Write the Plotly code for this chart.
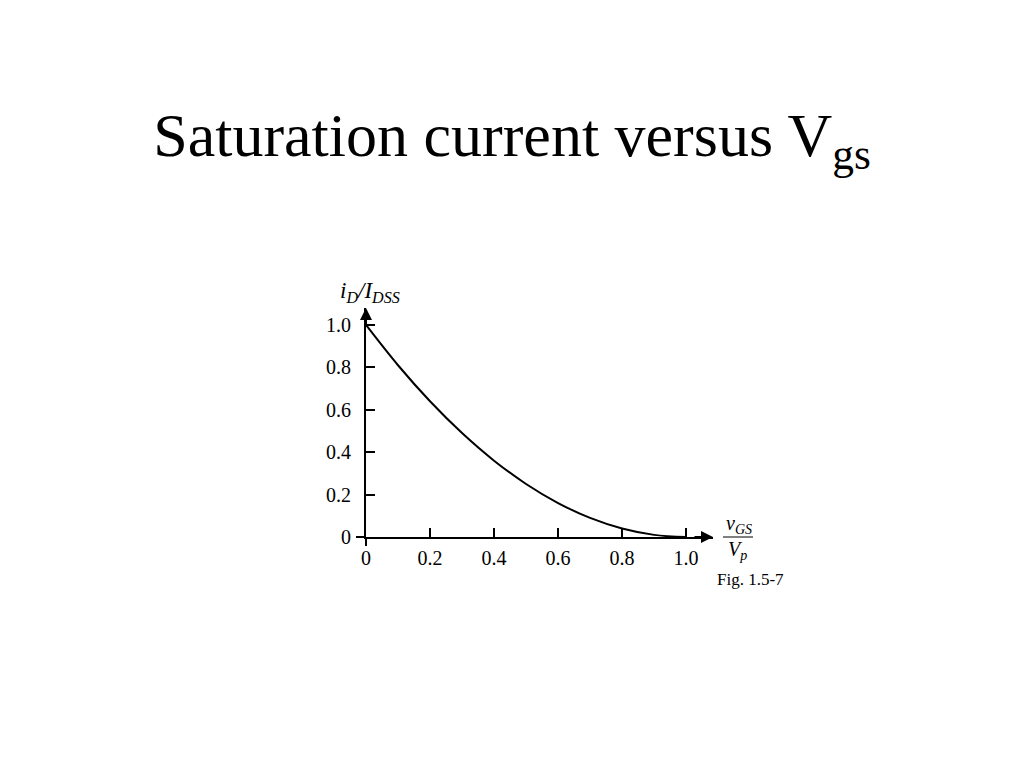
import plotly.graph_objects as go

# Data
vgs_over_vp = [0.0, 0.1, 0.2, 0.3, 0.4, 0.5, 0.6, 0.7, 0.8, 0.9, 1.0]
id_over_idss = [1.0, 0.81, 0.64, 0.49, 0.36, 0.25, 0.16, 0.09, 0.04, 0.01, 0.0]

x_tick_vals = [0, 0.2, 0.4, 0.6, 0.8, 1.0]
x_tick_text = ["0", "0.2", "0.4", "0.6", "0.8", "1.0"]
y_tick_vals = [0, 0.2, 0.4, 0.6, 0.8, 1.0]
y_tick_text = ["0", "0.2", "0.4", "0.6", "0.8", "1.0"]

W, H = 1024, 768
L, R, T, B = 366, 713, 308, 537  # plot area in pixels
X_MAX = 1.084
Y_MAX = 1.08

fig = go.Figure()
fig.add_trace(go.Scatter(
    x=vgs_over_vp, y=id_over_idss, mode="lines",
    line=dict(color="black", width=2, shape="spline", smoothing=1.0),
    hoverinfo="skip", showlegend=False, cliponaxis=False,
))

tick_font = dict(family="Liberation Serif", size=20, color="black")

fig.update_layout(
    width=W, height=H,
    margin=dict(l=L, r=W - R, t=T, b=H - B, pad=0),
    paper_bgcolor="white", plot_bgcolor="white",
    title=dict(
        text="Saturation current versus V<sub>gs</sub>",
        x=0.5, xanchor="center", xref="container",
        y=1 - 134 / H, yanchor="middle",
        font=dict(family="Liberation Serif", size=62, color="black"),
    ),
    xaxis=dict(
        range=[0, X_MAX], showgrid=False, zeroline=False,
        showline=True, linecolor="black", linewidth=2,
        ticks="inside", ticklen=9, tickwidth=1.5, tickcolor="black",
        tickvals=x_tick_vals, ticktext=x_tick_text, tickfont=tick_font,
        ticklabelstandoff=2,
        fixedrange=True,
    ),
    yaxis=dict(
        range=[0, Y_MAX], showgrid=False, zeroline=False,
        showline=True, linecolor="black", linewidth=2,
        ticks="inside", ticklen=9, tickwidth=1.5, tickcolor="black",
        tickvals=y_tick_vals, ticktext=y_tick_text, tickfont=tick_font,
        ticklabelstandoff=9,
        fixedrange=True,
    ),
)

pw = R - L
ph = B - T
# small axis extensions past the origin
fig.add_shape(type="line", xref="paper", yref="paper",
              x0=-10 / pw, x1=0, y0=0, y1=0,
              line=dict(color="black", width=2))
fig.add_shape(type="line", xref="paper", yref="paper",
              x0=0, x1=0, y0=-9 / ph, y1=0,
              line=dict(color="black", width=2))

# arrowheads on axes
fig.add_annotation(xref="paper", yref="paper", x=1.0, y=0,
                   axref="pixel", ayref="pixel", ax=-20, ay=0,
                   showarrow=True, arrowhead=2, arrowsize=1.2,
                   arrowwidth=2, arrowcolor="black", text="")
fig.add_annotation(xref="paper", yref="paper", x=0, y=1.0,
                   axref="pixel", ayref="pixel", ax=0, ay=20,
                   showarrow=True, arrowhead=2, arrowsize=1.2,
                   arrowwidth=2, arrowcolor="black", text="")

lab_font = dict(family="Liberation Serif", size=20, color="black")
# y axis label
fig.add_annotation(xref="paper", yref="paper", x=(370 - L) / pw, y=(B - 292) / ph,
                   text="<i>i<sub>D</sub>/I<sub>DSS</sub></i>", showarrow=False,
                   font=dict(family="Liberation Serif", size=23, color="black"),
                   xanchor="center", yanchor="middle")
# x axis label (fraction)
fig.add_annotation(xref="paper", yref="paper", x=(739 - L) / pw, y=(B - 524) / ph,
                   text="<i>v<sub>GS</sub></i>", showarrow=False,
                   font=lab_font, xanchor="center", yanchor="middle")
fig.add_annotation(xref="paper", yref="paper", x=(737 - L) / pw, y=(B - 550) / ph,
                   text="<i>V<sub>p</sub></i>", showarrow=False,
                   font=lab_font, xanchor="center", yanchor="middle")
fig.add_shape(type="line", xref="paper", yref="paper",
              x0=(723 - L) / pw, x1=(753 - L) / pw,
              y0=(B - 537) / ph, y1=(B - 537) / ph,
              line=dict(color="black", width=1))
fig.add_annotation(xref="paper", yref="paper", x=(750 - L) / pw, y=(B - 579) / ph,
                   text="Fig. 1.5-7", showarrow=False,
                   font=dict(family="Liberation Serif", size=17, color="black"),
                   xanchor="center", yanchor="middle")

fig.write_html("out.html", config={"displayModeBar": False},
               post_script="document.body.style.margin='0';")
